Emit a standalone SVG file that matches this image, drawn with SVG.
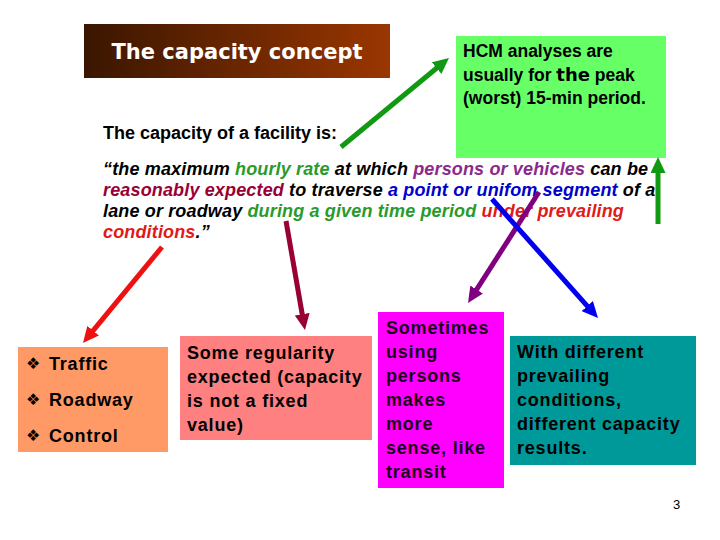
<svg xmlns="http://www.w3.org/2000/svg" width="720" height="540" viewBox="0 0 720 540">
<defs>
<linearGradient id="tg" x1="0" y1="0" x2="1" y2="0">
<stop offset="0" stop-color="#3a1600"/>
<stop offset="1" stop-color="#9a3600"/>
</linearGradient>
<marker id="mg" markerUnits="userSpaceOnUse" markerWidth="16" markerHeight="15" refX="1" refY="7.5" orient="auto"><path d="M0,0 L16,7.5 L0,15 z" fill="#119911"/></marker>
<marker id="mr" markerUnits="userSpaceOnUse" markerWidth="16" markerHeight="15" refX="1" refY="7.5" orient="auto"><path d="M0,0 L16,7.5 L0,15 z" fill="#ee1111"/></marker>
<marker id="md" markerUnits="userSpaceOnUse" markerWidth="16" markerHeight="15" refX="1" refY="7.5" orient="auto"><path d="M0,0 L16,7.5 L0,15 z" fill="#990033"/></marker>
<marker id="mp" markerUnits="userSpaceOnUse" markerWidth="16" markerHeight="15" refX="1" refY="7.5" orient="auto"><path d="M0,0 L16,7.5 L0,15 z" fill="#800080"/></marker>
<marker id="mb" markerUnits="userSpaceOnUse" markerWidth="16" markerHeight="15" refX="1" refY="7.5" orient="auto"><path d="M0,0 L16,7.5 L0,15 z" fill="#0000ee"/></marker>
</defs>
<style>
.b{font-family:"Liberation Sans",Arial,sans-serif;font-weight:bold;fill:#000}
.bx{font-size:18px;letter-spacing:0.8px}
.bul{font-family:"DejaVu Sans",sans-serif;font-size:16px;letter-spacing:0}
.q{font-family:"Liberation Sans",Arial,sans-serif;font-weight:bold;font-style:italic;font-size:18px;letter-spacing:0.15px;fill:#000}
.gr{fill:#2a9a2a}.pu{fill:#8a2a8a}.dr{fill:#990033}.bl{fill:#0000cc}.rd{fill:#e01a1a}
.c line{stroke-width:5;fill:none}
</style>
<rect width="720" height="540" fill="#fff"/>

<g id="title">
<rect x="84" y="24" width="306" height="54" fill="url(#tg)"/>
<text x="237" y="59" text-anchor="middle" font-family="DejaVu Sans,Verdana,sans-serif" font-weight="bold" font-size="21" fill="#fff">The capacity concept</text>
</g>

<g id="hcm">
<rect x="456" y="36" width="210" height="122" fill="#66ff66"/>
<text class="b" font-size="17.5"><tspan x="463" y="57">HCM analyses are</tspan><tspan x="463" y="81">usually for <tspan font-family="DejaVu Sans,Verdana,sans-serif" font-size="18">the</tspan> peak</tspan><tspan x="463" y="104">(worst) 15-min period.</tspan></text>
</g>

<g id="definition">
<text class="b" x="103" y="139" font-size="18">The capacity of a facility is:</text>
<text class="q"><tspan x="103" y="175">“the maximum <tspan class="gr">hourly rate</tspan> at which <tspan class="pu">persons or vehicles</tspan> can be</tspan><tspan x="103" y="196"><tspan class="dr">reasonably expected</tspan> to traverse <tspan class="bl">a point or unifom segment</tspan> of a</tspan><tspan x="103" y="217">lane or roadway <tspan class="gr">during a given time period</tspan> <tspan class="rd">under prevailing</tspan></tspan><tspan x="103" y="238"><tspan class="rd">conditions</tspan>.”</tspan></text>
</g>

<g id="factors">
<rect x="18" y="347" width="150" height="105" fill="#ff9966"/>
<text class="b bx"><tspan x="26" y="369" class="bul">❖</tspan><tspan x="49" y="370">Traffic</tspan><tspan x="26" y="405" class="bul">❖</tspan><tspan x="49" y="406">Roadway</tspan><tspan x="26" y="441" class="bul">❖</tspan><tspan x="49" y="442">Control</tspan></text>
</g>

<g id="regularity">
<rect x="180" y="336" width="192" height="104" fill="#ff8080"/>
<text class="b bx"><tspan x="187" y="359">Some regularity</tspan><tspan x="187" y="383">expected (capacity</tspan><tspan x="187" y="407">is not a fixed</tspan><tspan x="187" y="431">value)</tspan></text>
</g>

<g id="persons">
<rect x="378" y="312" width="126" height="176" fill="#ff00ff"/>
<text class="b bx" style="fill:#1a001a"><tspan x="386" y="334">Sometimes</tspan><tspan x="386" y="358">using</tspan><tspan x="386" y="382">persons</tspan><tspan x="386" y="406">makes</tspan><tspan x="386" y="430">more</tspan><tspan x="386" y="454">sense, like</tspan><tspan x="386" y="478">transit</tspan></text>
</g>

<g id="prevailing">
<rect x="510" y="336" width="186" height="129" fill="#009999"/>
<text class="b bx"><tspan x="517" y="358">With different</tspan><tspan x="517" y="382">prevailing</tspan><tspan x="517" y="406">conditions,</tspan><tspan x="517" y="430">different capacity</tspan><tspan x="517" y="454">results.</tspan></text>
</g>

<g id="connectors" class="c">
<line x1="341" y1="147" x2="437.4" y2="67.5" stroke="#119911" marker-end="url(#mg)"/>
<line x1="658" y1="224" x2="658" y2="172" stroke="#119911" marker-end="url(#mg)"/>
<line x1="162" y1="247" x2="92.5" y2="331.4" stroke="#ee1111" marker-end="url(#mr)"/>
<line x1="286" y1="221" x2="302.4" y2="315.2" stroke="#990033" marker-end="url(#md)"/>
<line x1="539" y1="192" x2="476.1" y2="290.4" stroke="#800080" marker-end="url(#mp)"/>
<line x1="492" y1="199" x2="588" y2="306.8" stroke="#0000ee" marker-end="url(#mb)"/>
</g>

<text x="673" y="509" font-family="Liberation Sans,Arial,sans-serif" font-size="13" fill="#000">3</text>
</svg>
